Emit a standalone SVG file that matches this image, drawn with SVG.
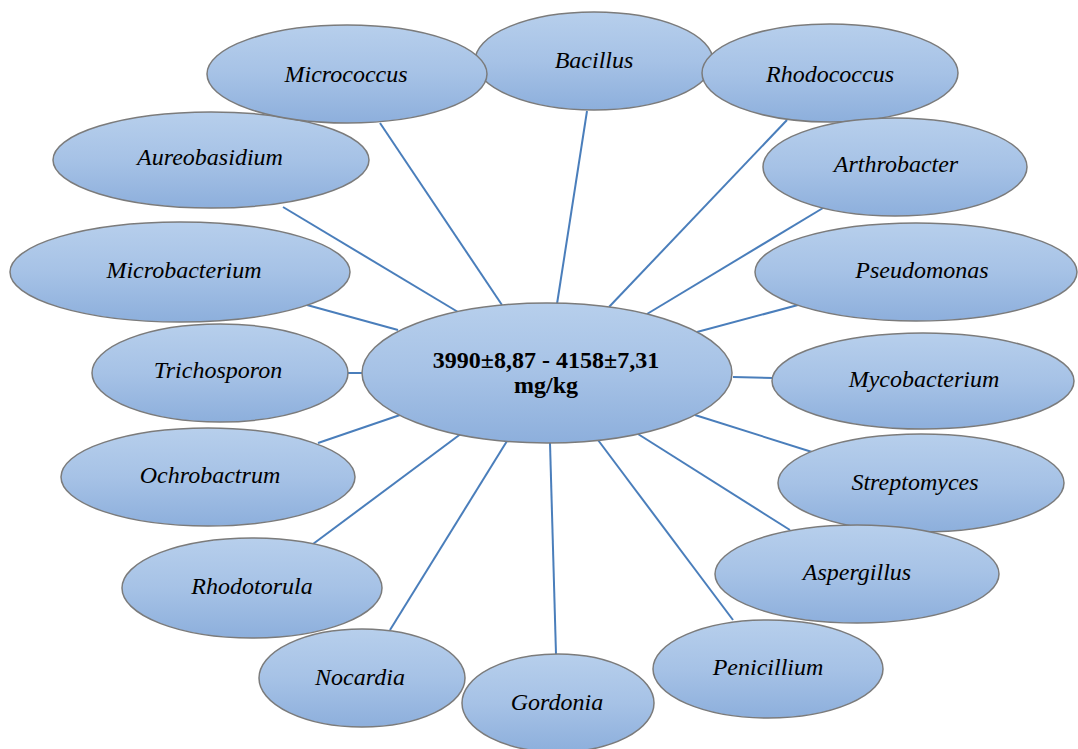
<svg xmlns="http://www.w3.org/2000/svg" width="1078" height="749" viewBox="0 0 1078 749">
<defs>
<linearGradient id="g" x1="0" y1="0" x2="0" y2="1">
<stop offset="0" stop-color="#b7cfec"/>
<stop offset="0.5" stop-color="#a6c2e6"/>
<stop offset="1" stop-color="#8dafdc"/>
</linearGradient>
</defs>
<style>
.n ellipse{fill:url(#g);stroke:#7b7b7b;stroke-width:1.5}
.n text{font-family:"Liberation Serif","Times New Roman",serif;font-style:italic;font-size:24px;fill:#000;text-anchor:middle}
#center text{font-style:normal;font-weight:bold}
#connectors line{stroke:#4a7ebb;stroke-width:2}
</style>
<rect width="1078" height="749" fill="#fff"/>
<g id="connectors">
<line x1="502" y1="305" x2="380" y2="123"/>
<line x1="557" y1="304" x2="587" y2="111"/>
<line x1="609" y1="307" x2="787" y2="120"/>
<line x1="647" y1="314" x2="823" y2="208"/>
<line x1="697" y1="332" x2="798" y2="305"/>
<line x1="733" y1="377" x2="773" y2="378"/>
<line x1="695" y1="415" x2="812" y2="452"/>
<line x1="638" y1="434" x2="790" y2="530"/>
<line x1="598" y1="440" x2="733" y2="620"/>
<line x1="550" y1="443" x2="556" y2="654"/>
<line x1="507" y1="441" x2="390" y2="630"/>
<line x1="462" y1="433" x2="313" y2="544"/>
<line x1="400" y1="415" x2="318" y2="443"/>
<line x1="362" y1="373" x2="347" y2="373"/>
<line x1="398" y1="330" x2="307" y2="305"/>
<line x1="458" y1="312" x2="283" y2="207"/>
</g>
<g id="bacillus" class="n"><ellipse cx="594" cy="61" rx="119" ry="49"/><text x="594" y="68">Bacillus</text></g>
<g id="aureobasidium" class="n"><ellipse cx="211" cy="160" rx="158" ry="48"/><text x="210" y="165">Aureobasidium</text></g>
<g id="micrococcus" class="n"><ellipse cx="347" cy="74" rx="140" ry="49"/><text x="346" y="82">Micrococcus</text></g>
<g id="rhodococcus" class="n"><ellipse cx="830" cy="73" rx="128" ry="49"/><text x="830" y="82">Rhodococcus</text></g>
<g id="arthrobacter" class="n"><ellipse cx="895" cy="167" rx="132" ry="49"/><text x="896" y="172">Arthrobacter</text></g>
<g id="pseudomonas" class="n"><ellipse cx="916" cy="272" rx="161" ry="49"/><text x="922" y="278">Pseudomonas</text></g>
<g id="microbacterium" class="n"><ellipse cx="180" cy="272" rx="170" ry="50"/><text x="184" y="278">Microbacterium</text></g>
<g id="trichosporon" class="n"><ellipse cx="220" cy="373" rx="128" ry="49"/><text x="218" y="378">Trichosporon</text></g>
<g id="mycobacterium" class="n"><ellipse cx="923" cy="381" rx="151" ry="48"/><text x="924" y="387">Mycobacterium</text></g>
<g id="ochrobactrum" class="n"><ellipse cx="208" cy="477" rx="147" ry="49"/><text x="210" y="483">Ochrobactrum</text></g>
<g id="streptomyces" class="n"><ellipse cx="921" cy="483" rx="143" ry="49"/><text x="915" y="490">Streptomyces</text></g>
<g id="rhodotorula" class="n"><ellipse cx="252" cy="588" rx="130" ry="50"/><text x="252" y="594">Rhodotorula</text></g>
<g id="aspergillus" class="n"><ellipse cx="857" cy="574" rx="142" ry="49"/><text x="857" y="580">Aspergillus</text></g>
<g id="penicillium" class="n"><ellipse cx="768" cy="669" rx="115" ry="49"/><text x="768" y="675">Penicillium</text></g>
<g id="nocardia" class="n"><ellipse cx="362" cy="678" rx="103" ry="49"/><text x="360" y="685">Nocardia</text></g>
<g id="gordonia" class="n"><ellipse cx="558" cy="703" rx="96" ry="49"/><text x="557" y="710">Gordonia</text></g>
<g id="center" class="n"><ellipse cx="547" cy="373" rx="185" ry="70"/><text x="546" y="368">3990±8,87 - 4158±7,31</text><text x="546" y="393">mg/kg</text></g>
</svg>
